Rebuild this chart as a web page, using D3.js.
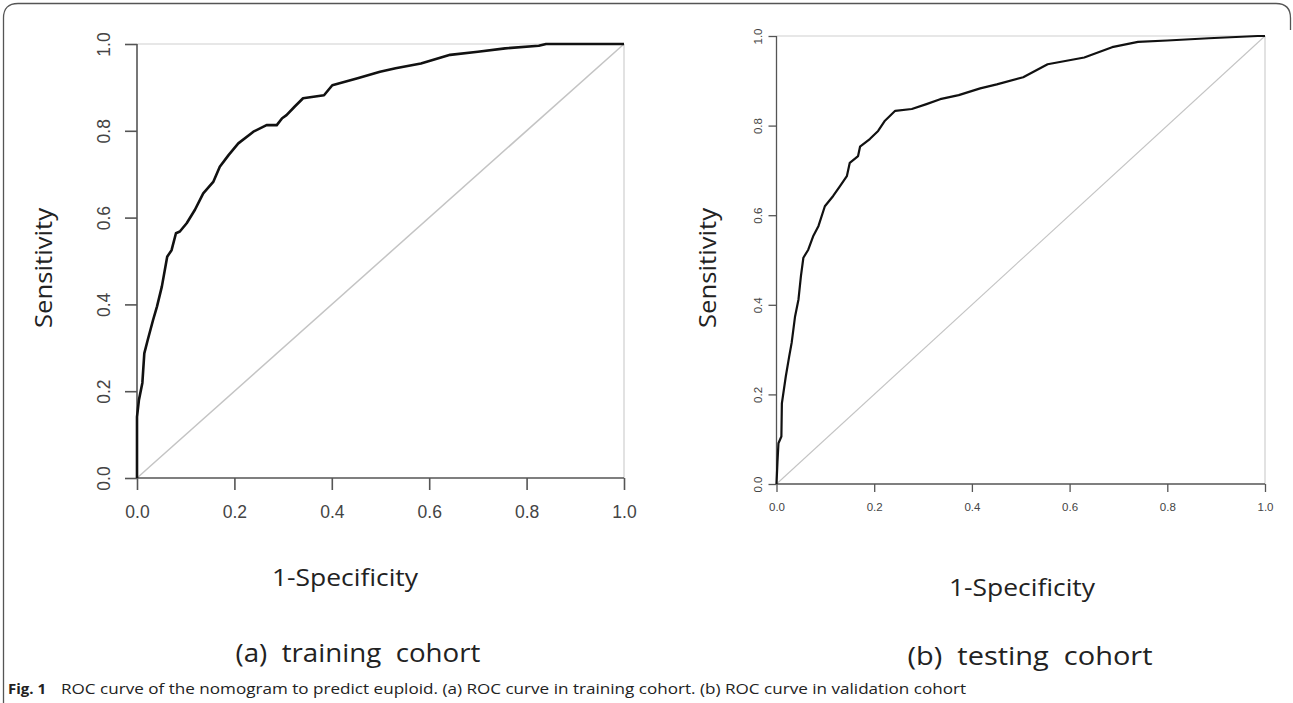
<!DOCTYPE html>
<html>
<head>
<meta charset="utf-8">
<script src="https://cdn.jsdelivr.net/npm/d3@7"></script>
<style>
    body { margin: 0; background: #fff; }
    svg { display: block; }
    .diag { fill: none; stroke: #c4c4c4; }
    .roc { fill: none; stroke: #111; stroke-linejoin: round; }
    .frameLine { stroke: #cfcfcf; stroke-width: 1.2; }
    .title { font-family: "Open Sans", "DejaVu Sans", sans-serif; fill: #222; }
</style>
</head>
<body>
<script>
//tick values shared by both panels
var tickValues = [0, 0.2, 0.4, 0.6, 0.8, 1.0];

//training cohort ROC (1-specificity, sensitivity)
var trainFpr = [0, 0, 0.004, 0.011, 0.015, 0.022, 0.033, 0.041, 0.051, 0.062, 0.071, 0.080, 0.088, 0.102, 0.119, 0.136, 0.157, 0.170, 0.188, 0.208, 0.239, 0.266, 0.287, 0.298, 0.307, 0.324, 0.341, 0.384, 0.401, 0.453, 0.499, 0.531, 0.583, 0.643, 0.70, 0.756, 0.825, 0.84, 1.0];
var trainTpr = [0, 0.141, 0.18, 0.219, 0.287, 0.318, 0.364, 0.395, 0.441, 0.510, 0.525, 0.564, 0.568, 0.587, 0.618, 0.656, 0.683, 0.717, 0.744, 0.771, 0.798, 0.813, 0.813, 0.829, 0.836, 0.856, 0.875, 0.882, 0.905, 0.921, 0.936, 0.944, 0.955, 0.975, 0.982, 0.990, 0.996, 1.0, 1.0];

//testing cohort ROC
var testFpr = [0, 0.002, 0.004, 0.010, 0.011, 0.019, 0.026, 0.031, 0.038, 0.045, 0.050, 0.055, 0.065, 0.075, 0.086, 0.099, 0.116, 0.130, 0.144, 0.150, 0.167, 0.171, 0.191, 0.208, 0.222, 0.243, 0.277, 0.307, 0.335, 0.373, 0.417, 0.451, 0.505, 0.555, 0.63, 0.687, 0.74, 0.80, 0.885, 0.985, 1.0];
var testTpr = [0, 0.05, 0.091, 0.106, 0.18, 0.24, 0.285, 0.315, 0.374, 0.412, 0.464, 0.505, 0.523, 0.553, 0.576, 0.620, 0.643, 0.665, 0.687, 0.717, 0.732, 0.753, 0.770, 0.788, 0.811, 0.833, 0.837, 0.848, 0.859, 0.868, 0.883, 0.892, 0.908, 0.937, 0.952, 0.975, 0.987, 0.990, 0.995, 1.0, 1.0];

var captionBold = "Fig. 1";
var captionText = "ROC curve of the nomogram to predict euploid. (a) ROC curve in training cohort. (b) ROC curve in validation cohort";

(function(){
    var width = 1293,
        height = 703;

    var svg = d3.select("body")
        .append("svg")
        .attr("width", width)
        .attr("height", height);

    //outer figure frame, open at the bottom right
    svg.append("path")
        .attr("d", "M3.5,703 L3.5,18 Q3.5,3.5 18,3.5 L1276,3.5 Q1290.5,3.5 1290.5,18 L1290.5,30")
        .attr("fill", "none")
        .attr("stroke", "#555")
        .attr("stroke-width", 1.3);

    //panel (a)
    drawPanel({
        x0: 137, x1: 624, y0: 478, y1: 44,
        fpr: trainFpr, tpr: trainTpr,
        curveWidth: 2.6, diagWidth: 1.5, axisWidth: 1.6, tickSize: 12,
        yFont: 17.5, yOffset: 27, xFont: 17.5, xOffset: 40,
        sensX: 44, sensY: 268, specX: 345, specY: 578, subX: 358, subY: 653,
        sub: "(a)  training  cohort"
    });

    //panel (b)
    drawPanel({
        x0: 776.5, x1: 1265, y0: 484, y1: 36,
        fpr: testFpr, tpr: testTpr,
        curveWidth: 2.2, diagWidth: 1.1, axisWidth: 1.3, tickSize: 8,
        yFont: 11.5, yOffset: 15, xFont: 11.5, xOffset: 27,
        sensX: 708, sensY: 268, specX: 1022, specY: 588, subX: 1030, subY: 656,
        sub: "(b)  testing  cohort"
    });

    //caption
    svg.append("text")
        .attr("x", 8)
        .attr("y", 694)
        .style("font-family", "'Open Sans', sans-serif")
        .style("font-size", "15px")
        .style("font-weight", "bold")
        .style("fill", "#222")
        .text(captionBold);
    svg.append("text")
        .attr("x", 61)
        .attr("y", 694)
        .attr("textLength", 905)
        .attr("lengthAdjust", "spacingAndGlyphs")
        .style("font-family", "'Open Sans', sans-serif")
        .style("font-size", "15px")
        .style("fill", "#222")
        .text(captionText);

    function drawPanel(p){
        var xScale = d3.scaleLinear().domain([0, 1]).range([p.x0, p.x1]);
        var yScale = d3.scaleLinear().domain([0, 1]).range([p.y0, p.y1]);

        var g = svg.append("g");

        //light top and right box lines
        g.append("line").attr("class", "frameLine")
            .attr("x1", xScale(0)).attr("x2", xScale(1))
            .attr("y1", yScale(1)).attr("y2", yScale(1));
        g.append("line").attr("class", "frameLine")
            .attr("x1", xScale(1)).attr("x2", xScale(1))
            .attr("y1", yScale(0)).attr("y2", yScale(1));

        //reference diagonal
        g.append("line").attr("class", "diag")
            .attr("x1", xScale(0)).attr("y1", yScale(0))
            .attr("x2", xScale(1)).attr("y2", yScale(1))
            .style("stroke-width", p.diagWidth);

        //axes
        var yAxis = d3.axisLeft(yScale)
            .tickValues(tickValues)
            .tickSize(p.tickSize)
            .tickFormat(d3.format(".1f"));
        var xAxis = d3.axisBottom(xScale)
            .tickValues(tickValues)
            .tickSize(p.tickSize)
            .tickFormat(d3.format(".1f"));

        var ya = g.append("g")
            .attr("transform", "translate(" + p.x0 + ",0)")
            .call(yAxis);
        var xa = g.append("g")
            .attr("transform", "translate(0," + p.y0 + ")")
            .call(xAxis);

        [ya, xa].forEach(function(a){
            a.select(".domain").attr("stroke", "#555").attr("stroke-width", p.axisWidth)
                .attr("d", a === ya
                    ? "M0," + p.y0 + "V" + p.y1
                    : "M" + p.x0 + ",0H" + p.x1);
            a.selectAll(".tick line").attr("stroke", "#555").attr("stroke-width", p.axisWidth);
        });

        //rotated y tick labels
        ya.selectAll(".tick text")
            .attr("transform", "rotate(-90)")
            .attr("x", 0)
            .attr("y", -p.yOffset)
            .attr("dy", 0)
            .attr("text-anchor", "middle")
            .style("font-family", "'Liberation Sans', Arial, sans-serif")
            .style("font-size", p.yFont + "px")
            .style("fill", "#444");

        xa.selectAll(".tick text")
            .attr("y", p.xOffset)
            .attr("dy", 0)
            .style("font-family", "'Liberation Sans', Arial, sans-serif")
            .style("font-size", p.xFont + "px")
            .style("fill", "#444");

        //ROC curve
        var pts = p.fpr.map(function(d, i){ return [d, p.tpr[i]]; });
        var line = d3.line()
            .x(function(d){ return xScale(d[0]); })
            .y(function(d){ return yScale(d[1]); });
        g.append("path")
            .datum(pts)
            .attr("class", "roc")
            .attr("d", line)
            .style("stroke-width", p.curveWidth);

        //axis titles
        g.append("text").attr("class", "title")
            .attr("transform", "translate(" + p.sensX + "," + p.sensY + ") rotate(-90)")
            .attr("text-anchor", "middle")
            .attr("dy", "0.35em")
            .attr("textLength", 120)
            .attr("lengthAdjust", "spacingAndGlyphs")
            .style("font-size", "24px")
            .text("Sensitivity");
        g.append("text").attr("class", "title")
            .attr("x", p.specX).attr("y", p.specY)
            .attr("text-anchor", "middle")
            .attr("dy", "0.35em")
            .attr("textLength", 146)
            .attr("lengthAdjust", "spacingAndGlyphs")
            .style("font-size", "24px")
            .text("1-Specificity");
        g.append("text").attr("class", "title")
            .attr("x", p.subX).attr("y", p.subY)
            .attr("text-anchor", "middle")
            .attr("dy", "0.35em")
            .attr("textLength", 245)
            .attr("lengthAdjust", "spacingAndGlyphs")
            .style("font-size", "25px")
            .style("white-space", "pre")
            .text(p.sub);
    }
})();
</script>
</body>
</html>
